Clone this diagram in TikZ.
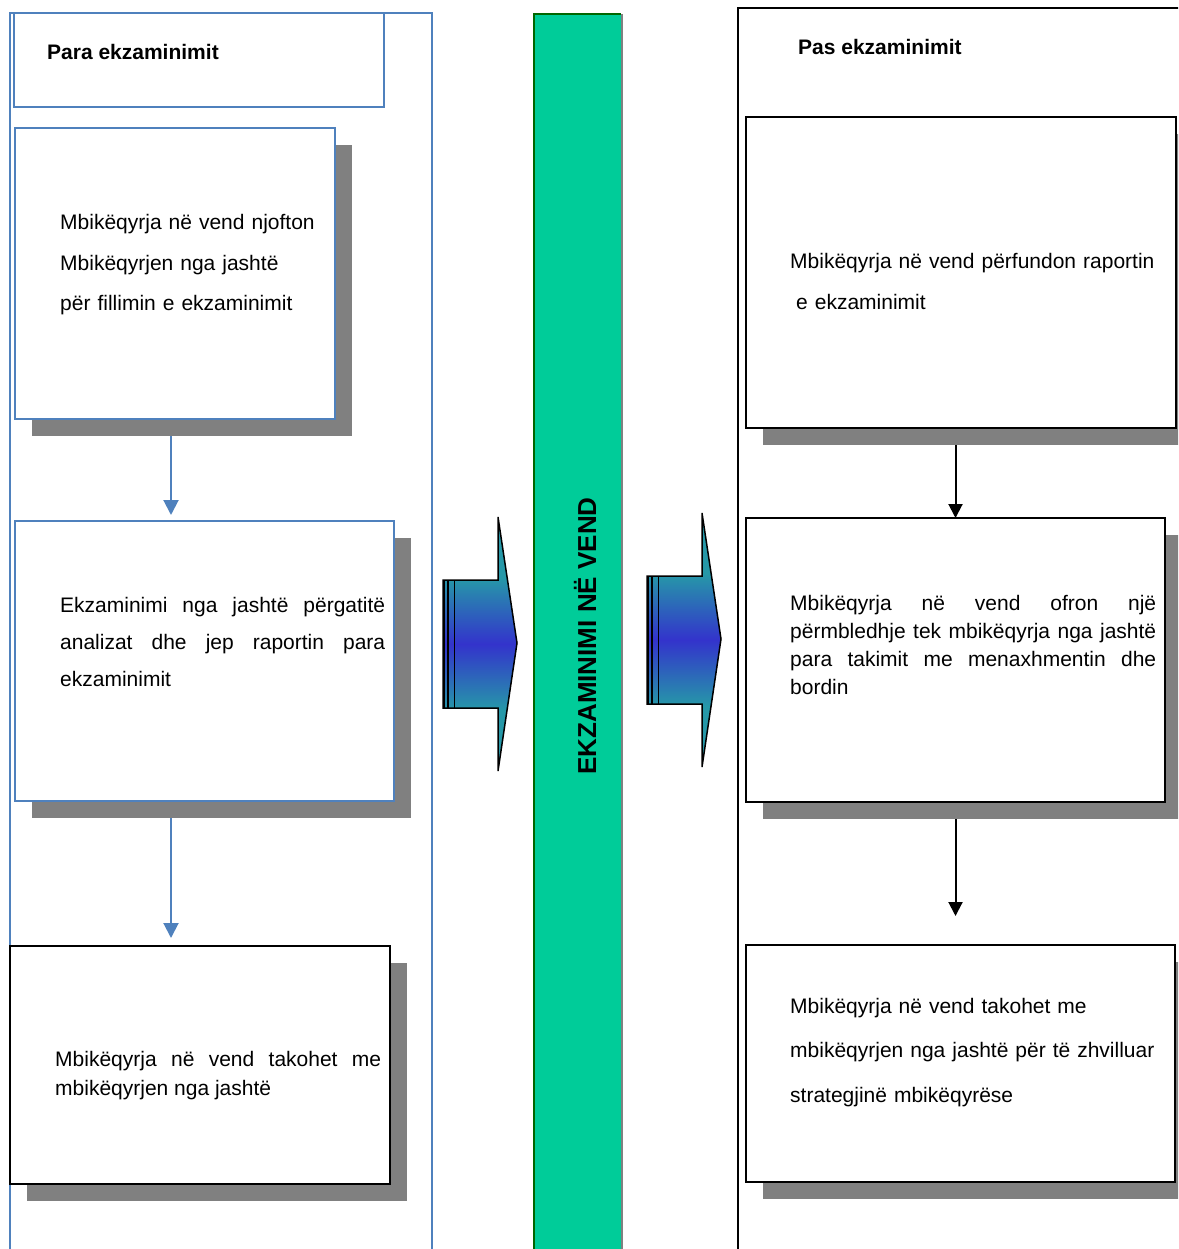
\documentclass[tikz,border=0pt]{standalone}
\usepackage{fontspec}
\setmainfont{Liberation Sans}
\usepackage{xcolor}
\usetikzlibrary{arrows.meta,shadows,positioning}
\pgfdeclarelayer{background}
\pgfsetlayers{background,main}
\definecolor{frameblue}{HTML}{4F81BD}
\definecolor{shadowgray}{HTML}{808080}
\definecolor{bargreen}{HTML}{00CC99}
\definecolor{arrowteal}{RGB}{38,152,168}
\definecolor{arrowblue}{RGB}{51,51,204}
\pgfdeclareverticalshading{arrowfill}{100bp}{color(0bp)=(arrowteal); color(37bp)=(arrowteal); color(50bp)=(arrowblue); color(63bp)=(arrowteal); color(100bp)=(arrowteal)}

\begin{document}
\begin{tikzpicture}[x=1pt,y=-1pt,
boxshadow/.style={general shadow={fill=shadowgray, shadow xshift=17pt, shadow yshift=-17pt}},
plainbox/.style={draw=frameblue, line width=2pt, fill=white, anchor=north west,
    outer sep=0pt, inner sep=0pt},
bluebox/.style={plainbox, boxshadow},
blackbox/.style={plainbox, draw=black, line width=2.2pt, boxshadow},
head/.style={anchor=base west, inner sep=0pt, font=\fontsize{21}{25}\selectfont\bfseries},
txt/.style={anchor=base west, inner sep=0pt, align=left, font=\fontsize{21}{#1}\selectfont},
jtxt/.style={txt=#1, align=justify},
blueflow/.style={draw=frameblue, line width=2pt, -{Triangle[length=15pt,width=15pt]}},
blackflow/.style={draw=black, line width=2pt, -{Triangle[length=14pt,width=14pt]}}]
\useasboundingbox (0,0) rectangle (1178,1249);
\clip (0,0) rectangle (1178,1249);

\draw[frameblue, line width=2pt] (10,1260) -- (10,13) -- (432,13) -- (432,1260);
\draw[black, line width=2pt] (738,1260) -- (738,8) -- (1190,8);

\node[plainbox, minimum width=370, minimum height=94] (hdr) at (14,13) {};
\node[head] (hl) at (47,60) {Para ekzaminimit};
\node[head] (hr) at (798,55) {Pas ekzaminimit};

\node[bluebox, minimum width=320, minimum height=291] (b1) at (15,128) {};
\node[bluebox, minimum width=379, minimum height=280] (b2) at (15,521) {};
\node[blackbox, minimum width=380, minimum height=238] (b3) at (10,946) {};
\node[blackbox, minimum width=430, minimum height=311] (r1) at (746,117) {};
\node[blackbox, minimum width=419, minimum height=284] (r2) at (746,518) {};
\node[blackbox, minimum width=429, minimum height=237] (r3) at (746,945) {};

\node[txt=40, text width=290] (t1) at (60,230) {Mbikëqyrja në vend njofton\\
    Mbikëqyrjen nga jashtë\\ për fillimin e ekzaminimit};
\node[jtxt=37, text width=325] (t2) at (60,612) {Ekzaminimi nga jashtë përgatitë\linebreak
    analizat dhe jep raportin para\linebreak ekzaminimit};
\node[jtxt=29, text width=326] (t3) at (55,1066) {Mbikëqyrja në vend takohet me\linebreak
    mbikëqyrjen nga jashtë};
\node[txt=40, text width=385] (t4) at (790,269) {Mbikëqyrja në vend përfundon raportin\\
    \hspace*{6pt}e ekzaminimit};
\node[jtxt=28, text width=366] (t5) at (790,610) {Mbikëqyrja në vend ofron një\linebreak
    përmbledhje tek mbikëqyrja nga jashtë\linebreak para takimit me menaxhmentin dhe\linebreak bordin};
\node[txt=44.5, text width=385] (t6) at (790,1013) {Mbikëqyrja në vend takohet me\\
    mbikëqyrjen nga jashtë për të zhvilluar\\ strategjinë mbikëqyrëse};

\coordinate (lx) at ([xshift=-4pt]b1.south);
\begin{pgfonlayer}{background}
\draw[blueflow, shorten >=6pt] (lx) -- (b2.north -| lx);
\draw[blueflow, shorten >=8pt] (b2.south -| lx) -- (b3.north -| lx);
\draw[blackflow] (r1.south -| r2.north) -- (r2.north);
\draw[blackflow, shorten >=29pt] (r2.south) -- (r3.north -| r2.south);
\end{pgfonlayer}

\fill[bargreen] (534,14) rectangle (621,1260);
\draw[green!40!black, line width=1.2pt] (534,1260) -- (534,14) -- (621,14);
\draw[gray, line width=2pt] (622,14) -- (622,1260);
\node[rotate=90, inner sep=0pt, font=\fontsize{26}{30}\selectfont\bfseries] (bartext) at (585,636)
    {EKZAMINIMI NË VEND};

\foreach \dx/\dy in {0/0, 204/-4}{
\begin{scope}[shift={(\dx,\dy)}]
\shade[shading=arrowfill, draw=black, line width=1.5pt] (443,580) -- (498,580) -- (498,517)
    -- (517,643) -- (498,771) -- (498,708) -- (443,708) -- cycle;
\draw[line width=1.6pt] (444.5,580) -- (444.5,708) (448.2,580) -- (448.2,708)
    (454.5,580) -- (454.5,708);
\end{scope}
}
\end{tikzpicture}
\end{document}
